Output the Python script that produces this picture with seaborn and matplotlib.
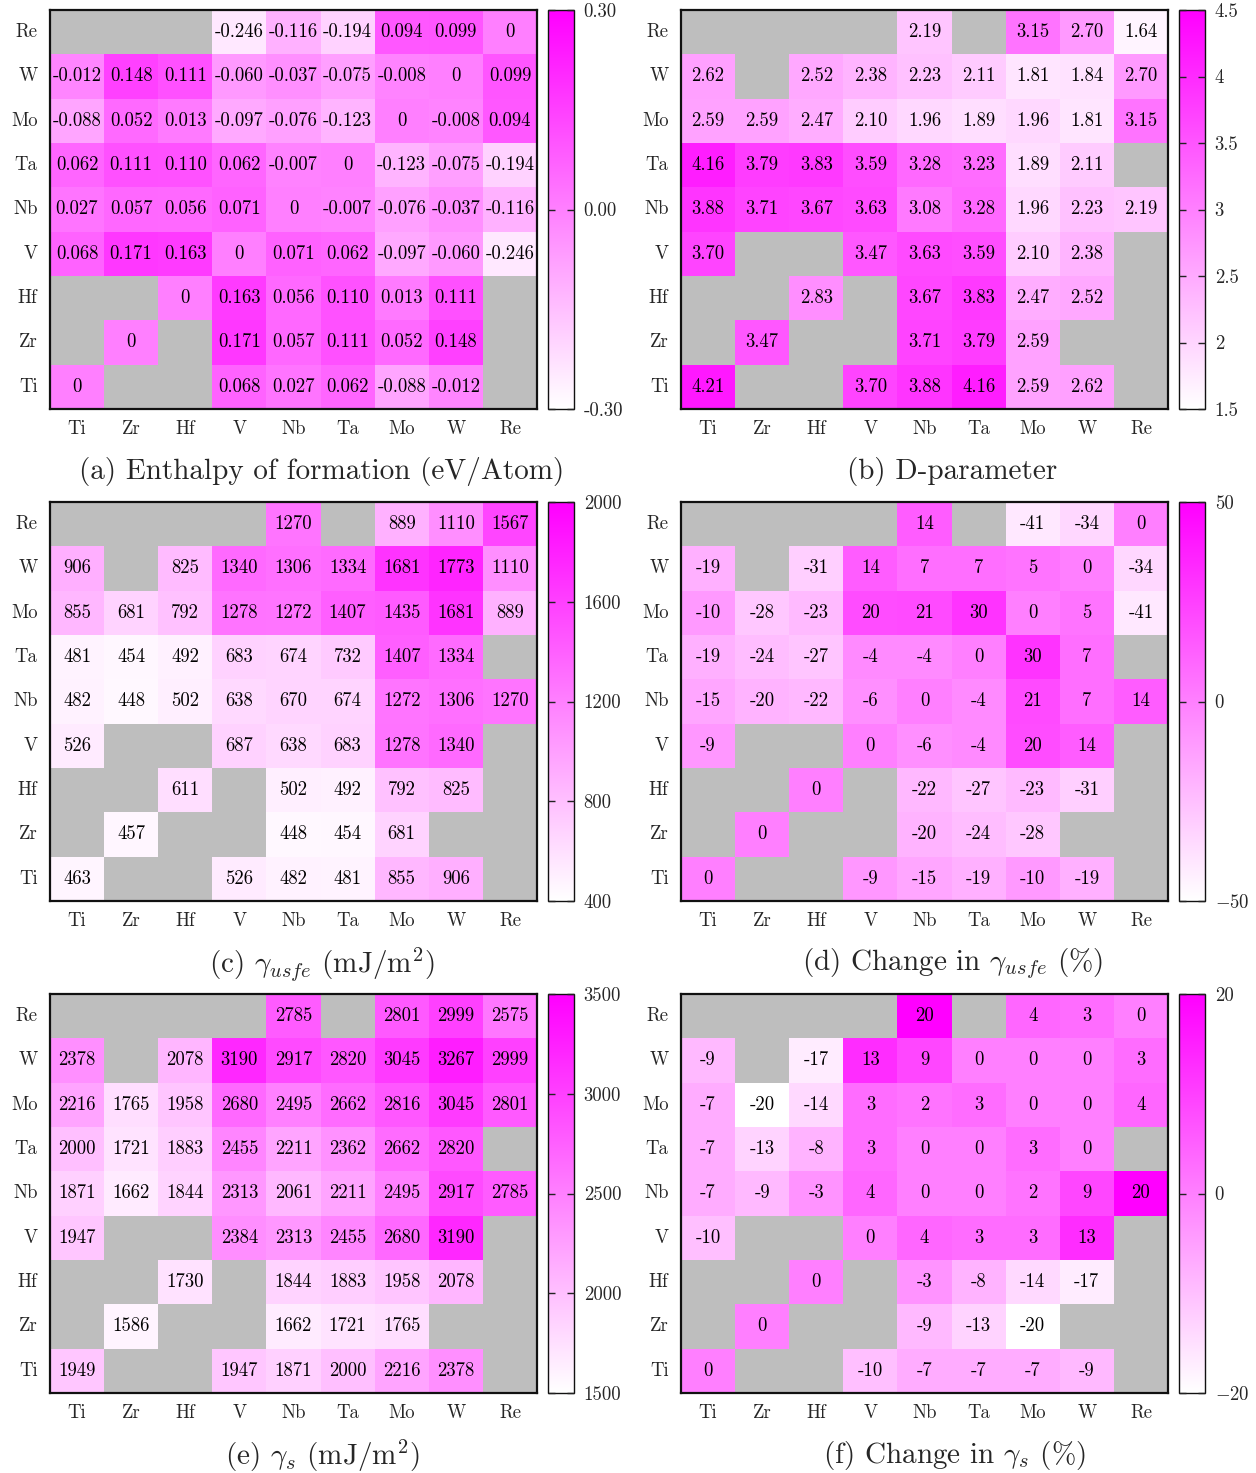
import numpy as np
import matplotlib
matplotlib.use("Agg")
import matplotlib.pyplot as plt
import seaborn as sns
from matplotlib.colors import LinearSegmentedColormap

sns.set_theme(style="white")
plt.rcParams["font.family"] = ["cmr10", "DejaVu Serif"]
plt.rcParams["mathtext.fontset"] = "cm"
plt.rcParams["axes.unicode_minus"] = False
plt.rcParams["axes.formatter.use_mathtext"] = True

nan = np.nan
cols = ["Ti", "Zr", "Hf", "V", "Nb", "Ta", "Mo", "W", "Re"]
rows = ["Re", "W", "Mo", "Ta", "Nb", "V", "Hf", "Zr", "Ti"]

# (a) enthalpy of formation, eV/atom
enthalpy = [
    [nan, nan, nan, -0.246, -0.116, -0.194, 0.094, 0.099, 0],
    [-0.012, 0.148, 0.111, -0.060, -0.037, -0.075, -0.008, 0, 0.099],
    [-0.088, 0.052, 0.013, -0.097, -0.076, -0.123, 0, -0.008, 0.094],
    [0.062, 0.111, 0.110, 0.062, -0.007, 0, -0.123, -0.075, -0.194],
    [0.027, 0.057, 0.056, 0.071, 0, -0.007, -0.076, -0.037, -0.116],
    [0.068, 0.171, 0.163, 0, 0.071, 0.062, -0.097, -0.060, -0.246],
    [nan, nan, 0, 0.163, 0.056, 0.110, 0.013, 0.111, nan],
    [nan, 0, nan, 0.171, 0.057, 0.111, 0.052, 0.148, nan],
    [0, nan, nan, 0.068, 0.027, 0.062, -0.088, -0.012, nan],
]

# (b) D-parameter
d_param = [
    [nan, nan, nan, nan, 2.19, nan, 3.15, 2.70, 1.64],
    [2.62, nan, 2.52, 2.38, 2.23, 2.11, 1.81, 1.84, 2.70],
    [2.59, 2.59, 2.47, 2.10, 1.96, 1.89, 1.96, 1.81, 3.15],
    [4.16, 3.79, 3.83, 3.59, 3.28, 3.23, 1.89, 2.11, nan],
    [3.88, 3.71, 3.67, 3.63, 3.08, 3.28, 1.96, 2.23, 2.19],
    [3.70, nan, nan, 3.47, 3.63, 3.59, 2.10, 2.38, nan],
    [nan, nan, 2.83, nan, 3.67, 3.83, 2.47, 2.52, nan],
    [nan, 3.47, nan, nan, 3.71, 3.79, 2.59, nan, nan],
    [4.21, nan, nan, 3.70, 3.88, 4.16, 2.59, 2.62, nan],
]

# (c) unstable stacking fault energy, mJ/m^2
gamma_usfe = [
    [nan, nan, nan, nan, 1270, nan, 889, 1110, 1567],
    [906, nan, 825, 1340, 1306, 1334, 1681, 1773, 1110],
    [855, 681, 792, 1278, 1272, 1407, 1435, 1681, 889],
    [481, 454, 492, 683, 674, 732, 1407, 1334, nan],
    [482, 448, 502, 638, 670, 674, 1272, 1306, 1270],
    [526, nan, nan, 687, 638, 683, 1278, 1340, nan],
    [nan, nan, 611, nan, 502, 492, 792, 825, nan],
    [nan, 457, nan, nan, 448, 454, 681, nan, nan],
    [463, nan, nan, 526, 482, 481, 855, 906, nan],
]

# (d) change in gamma_usfe, %
d_gamma_usfe = [
    [nan, nan, nan, nan, 14, nan, -41, -34, 0],
    [-19, nan, -31, 14, 7, 7, 5, 0, -34],
    [-10, -28, -23, 20, 21, 30, 0, 5, -41],
    [-19, -24, -27, -4, -4, 0, 30, 7, nan],
    [-15, -20, -22, -6, 0, -4, 21, 7, 14],
    [-9, nan, nan, 0, -6, -4, 20, 14, nan],
    [nan, nan, 0, nan, -22, -27, -23, -31, nan],
    [nan, 0, nan, nan, -20, -24, -28, nan, nan],
    [0, nan, nan, -9, -15, -19, -10, -19, nan],
]

# (e) surface energy, mJ/m^2
gamma_s = [
    [nan, nan, nan, nan, 2785, nan, 2801, 2999, 2575],
    [2378, nan, 2078, 3190, 2917, 2820, 3045, 3267, 2999],
    [2216, 1765, 1958, 2680, 2495, 2662, 2816, 3045, 2801],
    [2000, 1721, 1883, 2455, 2211, 2362, 2662, 2820, nan],
    [1871, 1662, 1844, 2313, 2061, 2211, 2495, 2917, 2785],
    [1947, nan, nan, 2384, 2313, 2455, 2680, 3190, nan],
    [nan, nan, 1730, nan, 1844, 1883, 1958, 2078, nan],
    [nan, 1586, nan, nan, 1662, 1721, 1765, nan, nan],
    [1949, nan, nan, 1947, 1871, 2000, 2216, 2378, nan],
]

# (f) change in gamma_s, %
d_gamma_s = [
    [nan, nan, nan, nan, 20, nan, 4, 3, 0],
    [-9, nan, -17, 13, 9, 0, 0, 0, 3],
    [-7, -20, -14, 3, 2, 3, 0, 0, 4],
    [-7, -13, -8, 3, 0, 0, 3, 0, nan],
    [-7, -9, -3, 4, 0, 0, 2, 9, 20],
    [-10, nan, nan, 0, 4, 3, 3, 13, nan],
    [nan, nan, 0, nan, -3, -8, -14, -17, nan],
    [nan, 0, nan, nan, -9, -13, -20, nan, nan],
    [0, nan, nan, -10, -7, -7, -7, -9, nan],
]

cmap = LinearSegmentedColormap.from_list("white_magenta", ["#ffffff", "#ff00ff"])
missing = "#bebebe"

W, H = 1256, 1473
fig = plt.figure(figsize=(W / 100, H / 100), dpi=100)


def px_axes(x0, y0, x1, y1):
    return fig.add_axes([x0 / W, 1 - y1 / H, (x1 - x0) / W, (y1 - y0) / H])


def fmt_enthalpy(v):
    return "0" if v == 0 else f"{v:.3f}"


def fmt_two(v):
    return f"{v:.2f}"


def fmt_int(v):
    return f"{v:.0f}"


panels = [
    dict(data=enthalpy, vmin=-0.3, vmax=0.3, ticks=[-0.3, 0.0, 0.3],
         labels=["-0.30", "0.00", "0.30"], fmt=fmt_enthalpy,
         caption="(a) Enthalpy of formation (eV/Atom)", cx=322, col=0, row=0),
    dict(data=d_param, vmin=1.5, vmax=4.5, ticks=[1.5, 2, 2.5, 3, 3.5, 4, 4.5],
         labels=["1.5", "2", "2.5", "3", "3.5", "4", "4.5"], fmt=fmt_two,
         caption="(b) D-parameter", cx=952, col=1, row=0),
    dict(data=gamma_usfe, vmin=400, vmax=2000, ticks=[400, 800, 1200, 1600, 2000],
         labels=["400", "800", "1200", "1600", "2000"], fmt=fmt_int,
         caption=r"(c) $\gamma_{usfe}$ (mJ/m$^2$)", cx=322, col=0, row=1),
    dict(data=d_gamma_usfe, vmin=-50, vmax=50, ticks=[-50, 0, 50],
         labels=[r"$-50$", "0", "50"], fmt=fmt_int,
         caption=r"(d) Change in $\gamma_{usfe}$ (%)", cx=953, col=1, row=1),
    dict(data=gamma_s, vmin=1500, vmax=3500, ticks=[1500, 2000, 2500, 3000, 3500],
         labels=["1500", "2000", "2500", "3000", "3500"], fmt=fmt_int,
         caption=r"(e) $\gamma_s$ (mJ/m$^2$)", cx=322, col=0, row=2),
    dict(data=d_gamma_s, vmin=-20, vmax=20, ticks=[-20, 0, 20],
         labels=[r"$-20$", "0", "20"], fmt=fmt_int,
         caption=r"(f) Change in $\gamma_s$ (%)", cx=954, col=1, row=2),
]

row_tops = [10, 502, 994]
row_h = 399
heat_x = [(50, 537), (681, 1168)]
cbar_x = [(548, 574), (1179, 1205)]
small = 13.5

for p in panels:
    y0 = row_tops[p["row"]]
    y1 = y0 + row_h
    hx0, hx1 = heat_x[p["col"]]
    cx0, cx1 = cbar_x[p["col"]]
    ax = px_axes(hx0, y0, hx1, y1)
    cax = px_axes(cx0, y0, cx1, y1)

    arr = np.array(p["data"], dtype=float)
    annot = np.array([["" if np.isnan(v) else p["fmt"](v) for v in r] for r in arr])

    ax.set_facecolor(missing)
    sns.heatmap(arr, ax=ax, cbar_ax=cax, cmap=cmap, vmin=p["vmin"], vmax=p["vmax"],
                mask=np.isnan(arr), annot=annot, fmt="",
                annot_kws=dict(color="black", fontsize=small),
                xticklabels=cols, yticklabels=rows,
                cbar_kws=dict(ticks=p["ticks"]))

    ax.tick_params(axis="both", length=0, labelsize=small)
    ax.tick_params(axis="x", pad=8)
    ax.tick_params(axis="y", pad=9)
    ax.set_yticklabels(rows, rotation=0)
    ax.set_xticklabels(cols, rotation=0)
    for s in ax.spines.values():
        s.set_visible(True)
        s.set_color("#111111")
        s.set_linewidth(1.6)

    cbar = ax.collections[0].colorbar
    cbar.outline.set_visible(True)
    cbar.outline.set_edgecolor("#111111")
    cbar.outline.set_linewidth(1.0)
    cbar.set_ticks(p["ticks"])
    cbar.set_ticklabels(p["labels"])
    cax.set_axisbelow(False)
    cax.yaxis.set_ticks_position("both")
    cax.tick_params(axis="y", which="major", direction="in", left=True, right=True,
                    length=5, width=1.0, color="#222222", labelsize=small, pad=7)
    cax.minorticks_off()

    fig.text(p["cx"] / W, 1 - (y1 + 63) / H, p["caption"], ha="center", va="center",
             fontsize=21)

fig.savefig("out.png", dpi=100, facecolor="white")
